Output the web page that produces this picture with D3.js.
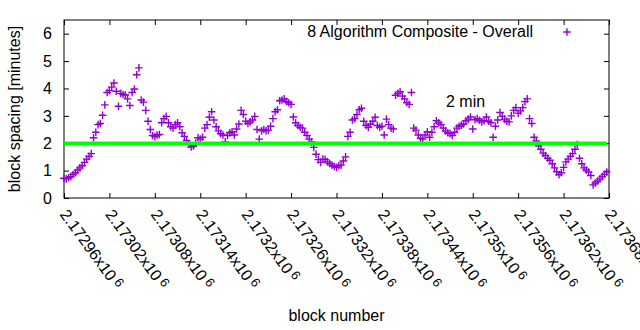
<!DOCTYPE html>
<html>
<head>
<meta charset="utf-8">
<script src="https://cdn.jsdelivr.net/npm/d3@7"></script>
<style>
  body { margin: 0; background: white; }
  svg { display: block; }
</style>
</head>
<body>
<svg id="chart" width="640" height="330"></svg>
<script>

// block spacing, one sample every 3 blocks starting at firstBlock
let firstBlock = 2172960
let blockStep = 3
let spacing = [
    0.72, 0.70, 0.74, 0.78, 0.86, 0.92, 1.02, 1.10, 1.18, 1.30,
    1.42, 1.52, 1.62, 2.20, 2.40, 2.68, 2.72, 3.02, 3.40, 3.85,
    3.92, 4.05, 4.20, 3.90, 3.35, 3.82, 3.78, 3.76, 3.62, 3.38,
    3.85, 3.98, 4.50, 4.75, 3.58, 3.50, 3.20, 2.80, 2.50, 2.28,
    2.24, 2.30, 2.32, 2.75, 2.90, 2.98, 2.75, 2.60, 2.55, 2.68,
    2.75, 2.60, 2.38, 2.25, 2.10, 1.98, 1.86, 1.90, 2.00, 2.20,
    2.15, 2.22, 2.55, 2.68, 2.95, 3.15, 2.85, 2.60, 2.45, 2.35,
    2.30, 2.05, 2.28, 2.38, 2.42, 2.30, 2.52, 2.70, 3.20, 3.05,
    2.80, 2.72, 2.78, 2.85, 2.98, 2.50, 2.15, 2.45, 2.50, 2.45,
    2.48, 2.62, 2.90, 3.15, 3.22, 3.55, 3.58, 3.62, 3.52, 3.48,
    3.42, 2.96, 2.75, 2.65, 2.58, 2.55, 2.40, 2.28, 2.15, 2.05,
    1.85, 1.60, 1.40, 1.30, 1.42, 1.40, 1.32, 1.26, 1.20, 1.15,
    1.12, 1.18, 1.20, 1.35, 1.50, 2.25, 2.40, 2.85, 2.90, 3.05,
    3.22, 3.28, 2.80, 2.65, 2.58, 2.70, 2.80, 2.95, 2.65, 2.58,
    2.62, 2.30, 2.88, 2.68, 2.55, 2.52, 3.75, 3.82, 3.88, 3.72,
    3.62, 3.48, 3.42, 3.85, 2.55, 2.48, 2.30, 2.18, 2.15, 2.30,
    2.42, 2.22, 2.40, 2.60, 2.82, 2.75, 2.68, 2.55, 2.45, 2.38,
    2.35, 2.28, 2.40, 2.55, 2.62, 2.66, 2.70, 2.82, 2.88, 2.96,
    2.52, 2.86, 2.90, 2.84, 2.78, 2.82, 2.96, 2.80, 2.75, 2.22,
    2.62, 2.85, 3.12, 2.98, 2.88, 2.80, 2.78, 3.00, 3.20, 3.30,
    3.10, 3.18, 3.30, 3.52, 3.62, 2.90, 2.72, 2.22, 2.08, 1.90,
    1.78, 1.64, 1.55, 1.45, 1.38, 1.25, 1.10, 0.96, 0.85, 0.92,
    1.12, 1.32, 1.42, 1.52, 1.62, 1.78, 1.95, 1.45, 1.25, 1.10,
    1.02, 0.95, 0.82, 0.48, 0.55, 0.62, 0.70, 0.78, 0.86, 0.95
]
let blocks = spacing.map((d, i) => firstBlock + i * blockStep)

let target = 2
let xDomain = [2172960, 2173680]
let yDomain = [0, 6.5]
let xTicks = [2172960, 2173020, 2173080, 2173140, 2173200, 2173260, 2173320,
              2173380, 2173440, 2173500, 2173560, 2173620, 2173680]
let yTicks = [0, 1, 2, 3, 4, 5, 6]

let seriesName = "8 Algorithm Composite - Overall"
let targetName = "2 min"
let xTitle = "block number"
let yTitle = "block spacing [minutes]"

let plotLeft = 64, plotTop = 20, plotRight = 609, plotBottom = 198
let font = "'Liberation Sans', Arial, sans-serif"
let purple = "#9400d3"

let svg = d3.select("#chart")

let x = d3.scaleLinear().domain(xDomain).range([plotLeft, plotRight])
let y = d3.scaleLinear().domain(yDomain).range([plotBottom, plotTop])

// plus-shaped point marker
let cross = function(g, cx, cy){
    let r = 3.8
    g.append("path")
        .attr("d", `M${cx - r},${cy}H${cx + r}M${cx},${cy - r}V${cy + r}`)
        .attr("stroke", purple)
        .attr("stroke-width", 1.4)
        .attr("fill", "none")
}

// axes with inward ticks, mirrored on top and right
let tickLen = 5
let axisStyle = function(g){
    g.select(".domain").remove()
    g.selectAll(".tick line").attr("stroke", "black")
    g.selectAll("text").remove()
}

svg.append("g")
    .attr("transform", `translate(0,${plotBottom})`)
    .call(d3.axisBottom(x).tickValues(xTicks).tickSize(-tickLen))
    .call(axisStyle)
svg.append("g")
    .attr("transform", `translate(0,${plotTop})`)
    .call(d3.axisTop(x).tickValues(xTicks).tickSize(-tickLen))
    .call(axisStyle)
svg.append("g")
    .attr("transform", `translate(${plotLeft},0)`)
    .call(d3.axisLeft(y).tickValues(yTicks).tickSize(-tickLen))
    .call(axisStyle)
svg.append("g")
    .attr("transform", `translate(${plotRight},0)`)
    .call(d3.axisRight(y).tickValues(yTicks).tickSize(-tickLen))
    .call(axisStyle)

svg.append("rect")
    .attr("x", plotLeft)
    .attr("y", plotTop)
    .attr("width", plotRight - plotLeft)
    .attr("height", plotBottom - plotTop)
    .attr("fill", "none")
    .attr("stroke", "black")
    .attr("stroke-width", 1)

// y tick labels
svg.append("g").selectAll("text")
    .data(yTicks)
    .join("text")
    .attr("x", plotLeft - 12)
    .attr("y", d => y(d))
    .attr("dy", "0.36em")
    .attr("text-anchor", "end")
    .attr("font-family", font)
    .attr("font-size", "16px")
    .text(d => d)

// x tick labels, rotated, written as mantissa x10^6
let xLabels = svg.append("g").selectAll("text")
    .data(xTicks)
    .join("text")
    .attr("transform", d => `translate(${x(d)},211) rotate(54)`)
    .attr("dy", "0.36em")
    .attr("font-family", font)
    .attr("font-size", "16px")
xLabels.append("tspan")
    .text(d => String(+(d / 1e6).toFixed(5)) + "x10")
xLabels.append("tspan")
    .attr("dx", 3)
    .attr("dy", -4)
    .attr("font-size", "13px")
    .text("6")

// axis titles
svg.append("text")
    .attr("transform", `translate(20,${(plotTop + plotBottom) / 2}) rotate(-90)`)
    .attr("text-anchor", "middle")
    .attr("font-family", font)
    .attr("font-size", "16px")
    .text(yTitle)

svg.append("text")
    .attr("x", (plotLeft + plotRight) / 2)
    .attr("y", 321)
    .attr("text-anchor", "middle")
    .attr("font-family", font)
    .attr("font-size", "16px")
    .text(xTitle)

// data points
let points = svg.append("g")
spacing.forEach((d, i) => cross(points, x(blocks[i]), y(d)))

// 2 minute target line
svg.append("line")
    .attr("x1", x(blocks[0]))
    .attr("x2", x(blocks[blocks.length - 1]))
    .attr("y1", y(target))
    .attr("y2", y(target))
    .attr("stroke", "#00ff00")
    .attr("stroke-width", 3.5)

svg.append("text")
    .attr("x", 446)
    .attr("y", 107)
    .attr("font-family", font)
    .attr("font-size", "16px")
    .text(targetName)

// legend
svg.append("text")
    .attr("x", 533)
    .attr("y", 37)
    .attr("text-anchor", "end")
    .attr("font-family", font)
    .attr("font-size", "16px")
    .text(seriesName)
cross(svg, 567, 32)

</script>
</body>
</html>
